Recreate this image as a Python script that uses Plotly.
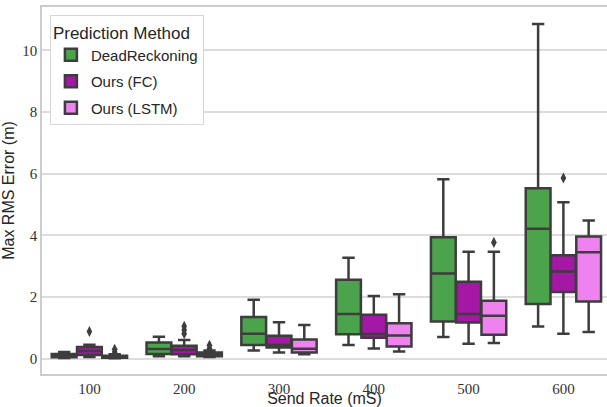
import plotly.graph_objects as go

rates = ["100", "200", "300", "400", "500", "600"]
methods = ["DeadReckoning", "Ours (FC)", "Ours (LSTM)"]

# DeadReckoning
dr_low = [0.02, 0.08, 0.26, 0.44, 0.70, 1.04]
dr_q1 = [0.04, 0.15, 0.44, 0.79, 1.20, 1.77]
dr_med = [0.09, 0.31, 0.81, 1.45, 2.76, 4.21]
dr_q3 = [0.15, 0.52, 1.35, 2.56, 3.94, 5.53]
dr_high = [0.21, 0.71, 1.91, 3.27, 5.82, 10.86]
dr_out_rate = []
dr_out_val = []

# Ours (FC)
fc_low = [0.05, 0.08, 0.20, 0.33, 0.48, 0.81]
fc_q1 = [0.12, 0.14, 0.36, 0.68, 1.17, 2.16]
fc_med = [0.25, 0.28, 0.44, 0.80, 1.45, 2.83]
fc_q3 = [0.38, 0.42, 0.74, 1.42, 2.49, 3.35]
fc_high = [0.45, 0.60, 1.18, 2.03, 3.47, 5.07]
fc_out_rate = ["100", "200", "200", "200", "600"]
fc_out_val = [0.88, 1.05, 0.93, 0.81, 5.86]

# Ours (LSTM)
ls_low = [0.01, 0.05, 0.14, 0.23, 0.51, 0.86]
ls_q1 = [0.03, 0.08, 0.20, 0.39, 0.77, 1.85]
ls_med = [0.05, 0.14, 0.32, 0.75, 1.39, 3.45]
ls_q3 = [0.09, 0.20, 0.62, 1.15, 1.88, 3.96]
ls_high = [0.14, 0.26, 1.09, 2.09, 3.47, 4.48]
ls_out_rate = ["100", "100", "200", "200", "500"]
ls_out_val = [0.30, 0.21, 0.43, 0.33, 3.77]

colors = ["#4ba34b", "#a517a5", "#ee82ee"]
edge = "#3d3d3d"

series = [
    (dr_low, dr_q1, dr_med, dr_q3, dr_high, dr_out_rate, dr_out_val),
    (fc_low, fc_q1, fc_med, fc_q3, fc_high, fc_out_rate, fc_out_val),
    (ls_low, ls_q1, ls_med, ls_q3, ls_high, ls_out_rate, ls_out_val),
]

n = len(methods)
bw = 0.8 / n
offsets = [(j - (n - 1) / 2) * bw for j in range(n)]
idx = {r: i for i, r in enumerate(rates)}

fig = go.Figure()
for j, (name, s) in enumerate(zip(methods, series)):
    low, q1, med, q3, high, orate, oval = s
    xs = [i + offsets[j] for i in range(len(rates))]
    fig.add_trace(go.Box(
        x=xs, q1=q1, median=med, q3=q3, lowerfence=low, upperfence=high,
        name=name, fillcolor=colors[j], width=bw * 0.98,
        line=dict(color=edge, width=2.5), whiskerwidth=0.5,
        legendgroup=name, boxpoints=False,
    ))
    if orate:
        fig.add_trace(go.Scatter(
            x=[idx[r] + offsets[j] for r in orate], y=oval, mode="markers",
            marker=dict(symbol="diamond-tall", size=8, color=edge),
            showlegend=False, legendgroup=name,
        ))

fig.update_layout(
    width=607, height=407,
    margin=dict(l=42, r=0, t=7, b=33),
    paper_bgcolor="white", plot_bgcolor="white",
    boxmode="overlay",
    showlegend=True,
    legend=dict(
        title=dict(text="Prediction Method", font=dict(family="Liberation Sans", size=17, color="#262626")),
        font=dict(family="Liberation Sans", size=15, color="#262626"),
        x=0.014, y=0.977, xanchor="left", yanchor="top",
        bgcolor="white", bordercolor="#d6d6d6", borderwidth=1,
        traceorder="grouped", tracegroupgap=4,
    ),
    xaxis=dict(
        range=[-0.5, 5.46], tickvals=list(range(len(rates))), ticktext=rates,
        showgrid=False, zeroline=False, showline=True, linecolor="#cccccc", linewidth=1.5,
        mirror=True, ticks="", tickfont=dict(family="Liberation Serif", size=15, color="#333333"),
        title=dict(text="Send Rate (mS)", standoff=0, font=dict(family="Liberation Sans", size=16, color="#262626")),
    ),
    yaxis=dict(
        range=[-0.5, 11.41], tickvals=[0, 2, 4, 6, 8, 10],
        showgrid=True, gridcolor="#dcdcdc", gridwidth=1.5, zeroline=False,
        showline=True, linecolor="#cccccc", linewidth=1.5, mirror=False, ticks="",
        tickfont=dict(family="Liberation Serif", size=15, color="#333333"),
        title=dict(text="Max RMS Error (m)", standoff=4, font=dict(family="Liberation Sans", size=16, color="#262626")),
    ),
)

fig.write_html("out.html")
